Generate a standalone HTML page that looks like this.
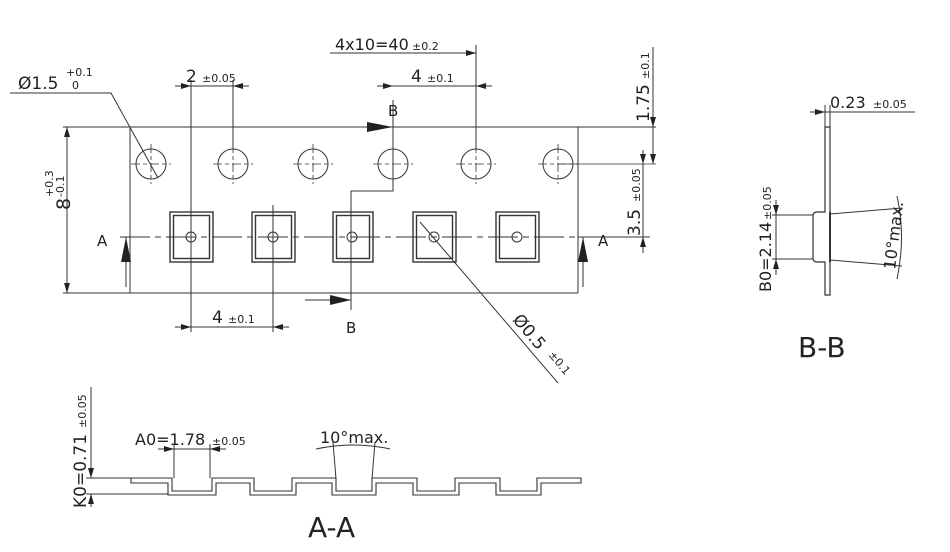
<!DOCTYPE html>
<html><head><meta charset="utf-8"><style>
html,body{margin:0;padding:0;background:#fff}
svg{display:block}
text{font-family:"DejaVu Sans","Liberation Sans",sans-serif;fill:#222}
</style></head><body>
<svg width="950" height="552" viewBox="0 0 950 552" xmlns="http://www.w3.org/2000/svg">
<defs>
<marker id="a" viewBox="0 0 10 6" refX="10" refY="3" markerWidth="10" markerHeight="6" orient="auto-start-reverse" markerUnits="userSpaceOnUse"><path d="M0,0 L10,3 L0,6 z" fill="#222"/></marker>
</defs>
<g stroke="#333" stroke-width="1" fill="none">
<line x1="63" y1="127" x2="656" y2="127"/>
<line x1="63" y1="293" x2="578" y2="293"/>
<line x1="130" y1="127" x2="130" y2="293"/>
<line x1="578" y1="127" x2="578" y2="293"/>
<circle cx="151" cy="164" r="15"/><circle cx="233" cy="164" r="15"/><circle cx="313" cy="164" r="15"/>
<circle cx="393" cy="164" r="15"/><circle cx="476" cy="164" r="15"/><circle cx="558" cy="164" r="15"/>
<g stroke-width="0.8">
<path d="M131,164h40M151,144v40M213,164h40M233,144v40M293,164h40M313,144v40M373,164h40M393,144v40M456,164h40M476,144v40M538,164h40M558,144v40" stroke-dasharray="9,3,4,3"/>
<line x1="558" y1="164" x2="656" y2="164"/>
</g>
<g stroke-width="1.4">
<rect x="170" y="212" width="43" height="50"/><rect x="173.5" y="215.5" width="36" height="43"/>
<rect x="252" y="212" width="43" height="50"/><rect x="255.5" y="215.5" width="36" height="43"/>
<rect x="333" y="212" width="40" height="50"/><rect x="336.5" y="215.5" width="33" height="43"/>
<rect x="413" y="212" width="43" height="50"/><rect x="416.5" y="215.5" width="36" height="43"/>
<rect x="496" y="212" width="43" height="50"/><rect x="499.5" y="215.5" width="36" height="43"/>
</g>
<circle cx="191" cy="237" r="5"/><circle cx="273" cy="237" r="5"/><circle cx="352" cy="237" r="5"/><circle cx="434" cy="237" r="5"/><circle cx="517" cy="237" r="5"/>
<line x1="120" y1="237" x2="590" y2="237" stroke-dasharray="30,5,6,5"/>
<line x1="191" y1="80" x2="191" y2="332"/>
<line x1="233" y1="80" x2="233" y2="150"/>
<line x1="273" y1="205" x2="273" y2="332"/>
<line x1="476" y1="45" x2="476" y2="150"/>
<line x1="330" y1="53" x2="476" y2="53" marker-end="url(#a)"/>
<line x1="377" y1="86" x2="393" y2="86" marker-end="url(#a)"/>
<line x1="393" y1="86" x2="476" y2="86"/>
<line x1="492" y1="86" x2="476" y2="86" marker-end="url(#a)"/>
<line x1="175" y1="86" x2="191" y2="86" marker-end="url(#a)"/>
<line x1="191" y1="86" x2="233" y2="86"/>
<line x1="249" y1="86" x2="233" y2="86" marker-end="url(#a)"/>
<line x1="175" y1="327" x2="191" y2="327" marker-end="url(#a)"/>
<line x1="191" y1="327" x2="273" y2="327"/>
<line x1="289" y1="327" x2="273" y2="327" marker-end="url(#a)"/>
<line x1="67" y1="127" x2="67" y2="293" marker-start="url(#a)" marker-end="url(#a)"/>
<line x1="653" y1="47" x2="653" y2="127" marker-end="url(#a)"/>
<line x1="653" y1="164" x2="653" y2="127" marker-start="url(#a)"/>
<line x1="643" y1="150" x2="643" y2="164" marker-end="url(#a)"/>
<line x1="643" y1="164" x2="643" y2="237"/>
<line x1="643" y1="253" x2="643" y2="237" marker-end="url(#a)"/>
<line x1="578" y1="237" x2="650" y2="237"/>
<polyline points="10,93 111,93 158,178"/>
<line x1="420" y1="222" x2="558" y2="383"/>
<polyline points="393,100 393,191 351,191 351,310"/>
<line x1="338" y1="127" x2="393" y2="127"/>
<polygon points="367,122 393,127 367,132" fill="#222" stroke="none"/>
<line x1="305" y1="300" x2="351" y2="300"/>
<polygon points="330,295 351,300 330,305" fill="#222" stroke="none"/>
<line x1="126" y1="237" x2="126" y2="287"/>
<polygon points="121,262 126,237 131,262" fill="#222" stroke="none"/>
<line x1="583" y1="237" x2="583" y2="287"/>
<polygon points="578,262 583,237 588,262" fill="#222" stroke="none"/>

<!-- B-B view -->
<path d="M825,127 V212 H817 Q813,212 813,216 V258 Q813,262 817,262 H825 V295 H830 V262 V212 V127 Z" stroke-width="1.2"/>
<line x1="830" y1="212" x2="830" y2="262" stroke-width="2"/>
<line x1="810" y1="112" x2="825" y2="112" marker-end="url(#a)"/>
<line x1="825" y1="112" x2="915" y2="112"/>
<line x1="825" y1="105" x2="825" y2="127"/><line x1="830" y1="105" x2="830" y2="127"/>
<line x1="772" y1="215" x2="813" y2="215"/><line x1="772" y1="259" x2="813" y2="259"/>
<line x1="776" y1="200" x2="776" y2="215" marker-end="url(#a)"/>
<line x1="776" y1="215" x2="776" y2="259"/>
<line x1="776" y1="275" x2="776" y2="259" marker-end="url(#a)"/>
<line x1="830" y1="214" x2="902" y2="208"/><line x1="830" y1="260" x2="902" y2="266"/>
<path d="M897,196 Q906,237 897,279"/>

<!-- A-A view -->
<polyline stroke-width="1.1" points="131,478 172,478 172,491 212,491 212,478 254,478 254,491 292,491 292,478 336,478 336,491 372,491 372,478 417,478 417,491 455,491 455,478 500,478 500,491 537,491 537,478 581,478 581,483 541,483 541,495 496,495 496,483 459,483 459,495 413,495 413,483 376,483 376,495 332,495 332,483 296,483 296,495 250,495 250,483 216,483 216,495 168,495 168,483 131,483 131,478"/>
<line x1="86" y1="478" x2="168" y2="478"/><line x1="86" y1="494" x2="168" y2="494"/>
<line x1="91" y1="387" x2="91" y2="478"/><line x1="91" y1="465" x2="91" y2="478" marker-end="url(#a)"/>
<line x1="91" y1="507" x2="91" y2="494" marker-end="url(#a)"/>
<line x1="174" y1="444" x2="174" y2="478"/><line x1="210" y1="444" x2="210" y2="478"/>
<line x1="158" y1="449" x2="174" y2="449" marker-end="url(#a)"/>
<line x1="174" y1="449" x2="210" y2="449"/>
<line x1="226" y1="449" x2="210" y2="449" marker-end="url(#a)"/>
<line x1="336" y1="479" x2="333" y2="442"/><line x1="372" y1="479" x2="375" y2="442"/>
<path d="M316,449 Q353,441 390,449"/>
</g>

<text x="18" y="89" font-size="17">Ø1.5</text>
<text x="66" y="76" font-size="11">+0.1</text>
<text x="72" y="89" font-size="11">0</text>
<text x="186" y="82" font-size="17">2</text><text x="202" y="82" font-size="11">±0.05</text>
<text x="335" y="50" font-size="16">4x10=40</text><text x="412" y="50" font-size="11">±0.2</text>
<text x="411" y="82" font-size="17">4</text><text x="427" y="82" font-size="11">±0.1</text>
<text x="212" y="323" font-size="17">4</text><text x="228" y="323" font-size="11">±0.1</text>
<text x="388" y="116" font-size="15">B</text>
<text x="346" y="333" font-size="15">B</text>
<text x="97" y="246" font-size="15">A</text>
<text x="598" y="246" font-size="15">A</text>
<text transform="translate(70,210) rotate(-90)" font-size="19">8</text>
<text transform="translate(53,197) rotate(-90)" font-size="11">+0.3</text>
<text transform="translate(64,197) rotate(-90)" font-size="11">-0.1</text>
<text transform="translate(649,122) rotate(-90)" font-size="17">1.75</text>
<text transform="translate(649,79) rotate(-90)" font-size="11">±0.1</text>
<text transform="translate(640,236) rotate(-90)" font-size="17">3.5</text>
<text transform="translate(640,202) rotate(-90)" font-size="11">±0.05</text>
<text transform="translate(512,320) rotate(50)" font-size="17">Ø0.5</text>
<text transform="translate(548,355) rotate(50)" font-size="11">±0.1</text>
<text x="830" y="108" font-size="16">0.23</text><text x="873" y="108" font-size="11">±0.05</text>
<text transform="translate(771,292) rotate(-90)" font-size="16">B0=2.14</text>
<text transform="translate(771,220) rotate(-90)" font-size="11">±0.05</text>
<text transform="translate(895,270) rotate(-83)" font-size="16">10°max.</text>
<text x="798" y="357" font-size="28">B-B</text>
<text transform="translate(86,508) rotate(-90)" font-size="17">K0=0.71</text>
<text transform="translate(86,428) rotate(-90)" font-size="11">±0.05</text>
<text x="135" y="445" font-size="16">A0=1.78</text><text x="212" y="445" font-size="11">±0.05</text>
<text x="320" y="443" font-size="16">10°max.</text>
<text x="308" y="537" font-size="28">A-A</text>
</svg>
</body></html>
